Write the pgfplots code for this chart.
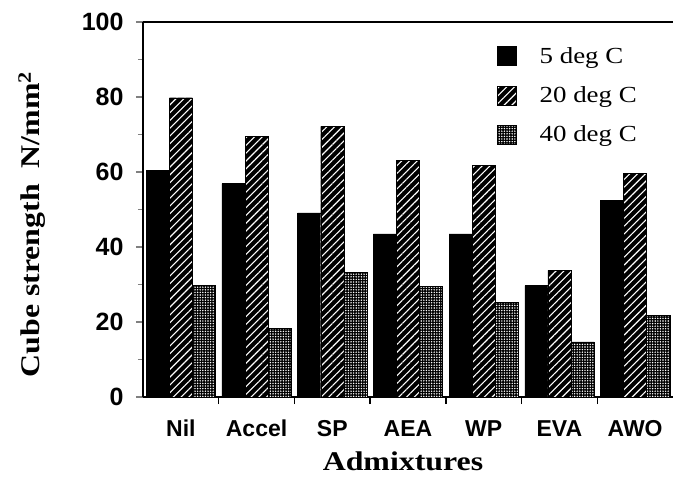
\documentclass[border=0pt]{standalone}
\usepackage{fontspec}
\setmainfont{Liberation Serif}
\setsansfont{Liberation Sans}
\newfontfamily\labfont[FakeStretch=1.18]{Liberation Serif}
\newfontfamily\legfont[FakeStretch=1.17]{Liberation Serif}
\usepackage{pgfplots}
\usepackage{pgfplotstable}
\pgfplotsset{compat=1.18}
\usetikzlibrary{patterns.meta,calc}

\pgfplotstableread{
x five twenty forty
0 60.5 79.8 29.7
1 56.9 69.5 18.3
2 49.1 72.2 33.3
3 43.5 63.1 29.6
4 43.5 61.8 25.3
5 29.7 33.8 14.7
6 52.5 59.7 21.8
}\data

\begin{document}
\begin{tikzpicture}
\begin{axis}[
  scale only axis, width=530pt, height=375pt,
  xmin=-0.5, xmax=6.5, ymin=0, ymax=100,
  ybar=0pt, bar width=0.305,
  clip=false,
  axis x line*=bottom, axis y line*=left,
  axis line style={line width=2pt},
  xtick={0,...,6}, xticklabels={Nil,Accel,SP,AEA,WP,EVA,AWO},
  xtick style={draw=none},
  extra x ticks={0.5,1.5,...,5.5}, extra x tick labels={},
  extra x tick style={xtick style={draw=black, line width=1.5pt}},
  ytick={0,20,...,100}, minor ytick={10,30,...,90},
  ytick style={line width=1.5pt},
  minor y tick style={line width=1.5pt},
  tick align=outside, major tick length=7pt, minor tick length=5pt,
  /pgf/number format/assume math mode=true,
  yticklabel style={font=\sffamily\bfseries\fontsize{25}{25}\selectfont, xshift=-9pt},
  xticklabel style={font=\sffamily\bfseries\fontsize{23}{23}\selectfont, text height=16.5pt, text depth=0pt, yshift=-12pt},
  xlabel={Admixtures},
  ylabel={Cube strength\ \ N/mm\textsuperscript{2}},
  xlabel style={font=\labfont\bfseries\fontsize{27}{27}\selectfont, at={(rel axis cs:0.5,0)}, anchor=center, yshift=-64pt, xshift=-5pt},
  ylabel style={font=\labfont\bfseries\fontsize{27}{27}\selectfont, at={($(rel axis cs:0,0.5)+(-111pt,-15pt)$)}, anchor=center},
  legend style={at={(rel axis cs:0.668,0.939)}, anchor=north west, draw=none, fill=none,
    font=\legfont\fontsize{23}{23}\selectfont, row sep=18pt, inner sep=0pt,
    /tikz/every odd column/.append style={column sep=21pt}},
  legend cell align=left,
  legend image code/.code={\draw[#1] (0pt,-9.5pt) rectangle (19pt,9.5pt);},
]
\addplot[draw=black, fill=black] table[x=x,y=five]{\data};
\addplot[draw=black, fill=black, postaction={pattern={Lines[angle=45,distance=5.5pt,line width=1.1pt]}, pattern color=white}] table[x=x,y=twenty]{\data};
\addplot[draw=black, fill=black, postaction={pattern={Dots[distance=2.6pt,radius=0.8pt]}, pattern color=white}] table[x=x,y=forty]{\data};
\legend{5 deg C, 20 deg C, 40 deg C}
\draw[line width=2pt] (rel axis cs:0,1) -- (rel axis cs:1,1);
\end{axis}
\pgfresetboundingbox
\path ($(current axis.south west)+(-143pt,-80pt)$) rectangle ($(current axis.north east)+(1pt,22pt)$);
\end{tikzpicture}
\end{document}
